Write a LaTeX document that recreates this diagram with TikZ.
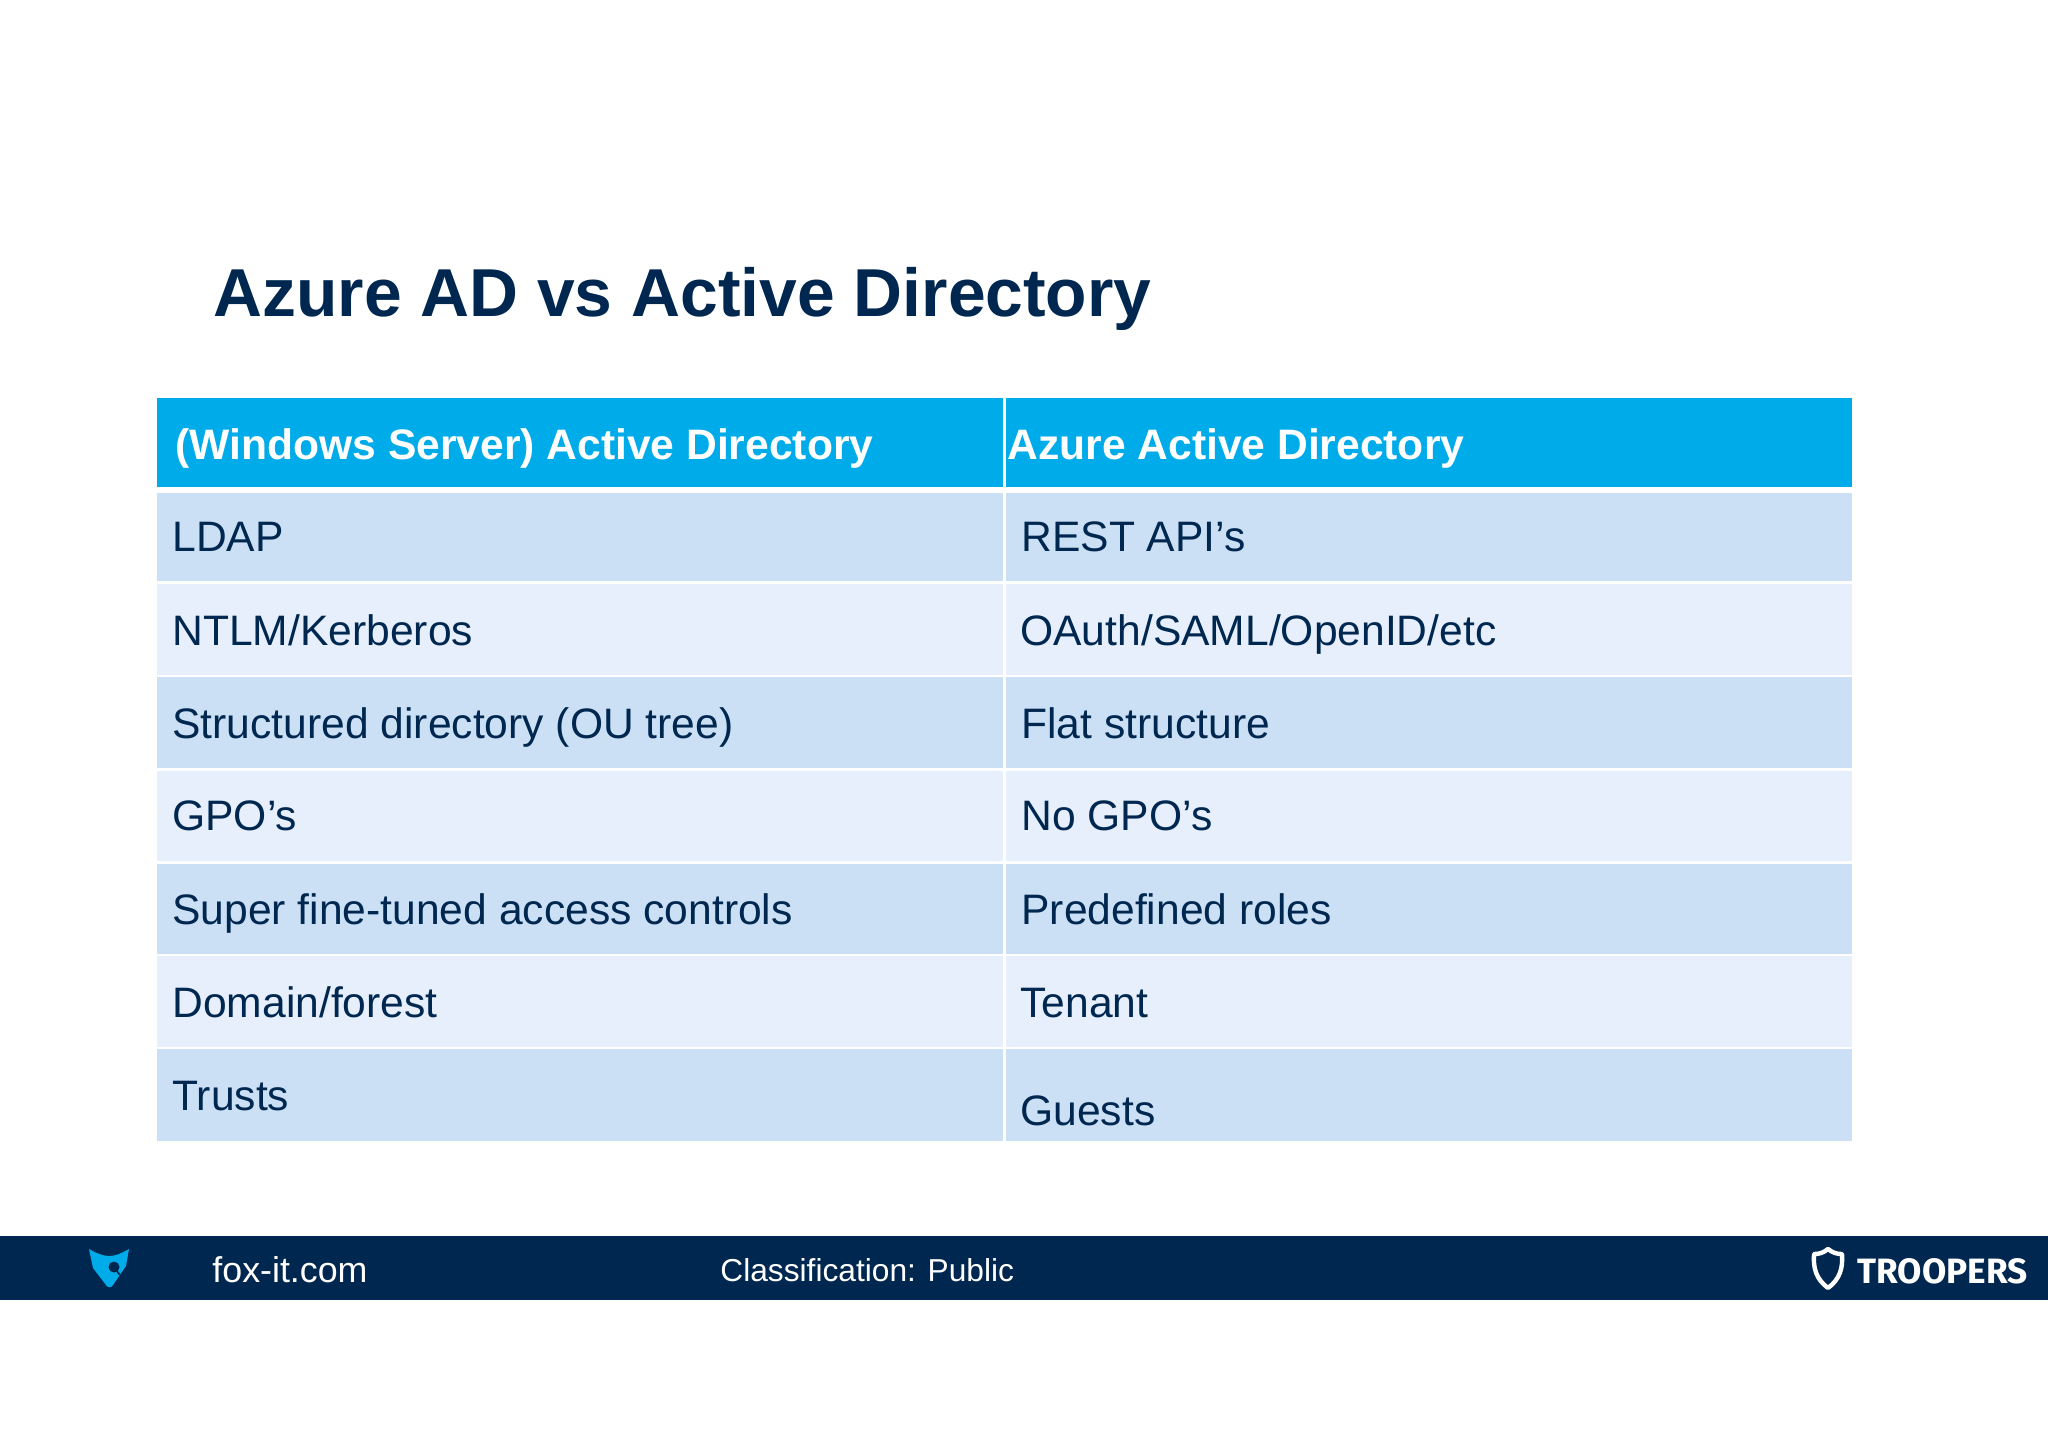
\documentclass[tikz,border=0pt]{standalone}
\usepackage{fontspec}
\setmainfont{Liberation Sans}
\newfontfamily\logofont{Fira Sans}
\definecolor{navy}{HTML}{00274F}
\definecolor{headblue}{HTML}{00ABE9}
\definecolor{rowdark}{HTML}{CBE0F5}
\definecolor{rowlight}{HTML}{E6EFFB}
\tikzset{
  cell/.style={anchor=base west, inner sep=0pt, text=navy, font=\fontsize{21.3}{25}\selectfont},
  headcell/.style={anchor=base west, inner sep=0pt, text=white, font=\fontsize{21.3}{25}\selectfont\bfseries},
  foot/.style={anchor=base west, inner sep=0pt, text=white}
}
\begin{document}
\begin{tikzpicture}[x=0.5pt, y=-0.5pt]
    \useasboundingbox (0,0) rectangle (2048,1447);

    % table bands
    \fill [headblue] (157,398) rectangle (1003,487);
    \fill [headblue] (1006,398) rectangle (1852,487);
    \foreach \ytop/\ybot/\shade in {493/581/rowdark,584/675/rowlight,677/768/rowdark,771/861/rowlight,864/954/rowdark,956/1047/rowlight,1049/1141/rowdark}{
      \fill [\shade] (157,\ytop) rectangle (1003,\ybot);
      \fill [\shade] (1006,\ytop) rectangle (1852,\ybot);
    }

    % footer bar
    \fill [navy] (0,1236) rectangle (2048,1300);

    % fox logo
    \fill [headblue] (89,1249) .. controls (96,1253) and (103,1256) .. (109,1256)
      .. controls (116,1256) and (122,1253) .. (129,1249)
      -- (126,1266) -- (113,1285) .. controls (111,1288) and (108,1288) .. (106,1285)
      -- (93,1268) -- cycle;
    \fill [navy] (114,1267) circle (5.5);
    \draw [navy, line width=0.9pt] (116,1270) -- (120,1275);

    % shield logo
    \draw [white, line width=2.2pt, line join=round] (1828,1249)
      .. controls (1823,1253) and (1819,1254) .. (1814,1254)
      .. controls (1813,1268) and (1816,1279) .. (1828,1288)
      .. controls (1840,1279) and (1843,1268) .. (1842,1254)
      .. controls (1837,1254) and (1833,1253) .. (1828,1249) -- cycle;

    % add labels
    \node [anchor=base west, inner sep=0pt, text=navy, font=\fontsize{33.9}{40}\selectfont\bfseries] (title) at (213,316) {Azure AD vs Active Directory};
    \node [headcell] (headleft) at (175,459) {(Windows Server) Active Directory};
    \node [headcell] (headright) at (1007,459) {Azure Active Directory};
    \node [cell] (ldap) at (172,551) {LDAP};
    \node [cell] (rest) at (1021,551) {REST API’s};
    \node [cell] (ntlm) at (172,645) {NTLM/Kerberos};
    \node [cell] (oauth) at (1020,645) {OAuth/SAML/OpenID/etc};
    \node [cell] (struct) at (172,738) {Structured directory (OU tree)};
    \node [cell] (flat) at (1021,738) {Flat structure};
    \node [cell] (gpo) at (172,830) {GPO’s};
    \node [cell] (nogpo) at (1021,830) {No GPO’s};
    \node [cell] (access) at (172,924) {Super fine-tuned access controls};
    \node [cell] (roles) at (1021,924) {Predefined roles};
    \node [cell] (domain) at (172,1017) {Domain/forest};
    \node [cell] (tenant) at (1020,1017) {Tenant};
    \node [cell] (trusts) at (172,1110) {Trusts};
    \node [cell] (guests) at (1020,1125) {Guests};
    \node [foot, font=\fontsize{17.9}{21}\selectfont] (site) at (212,1282) {fox-it.com};
    \node [foot, font=\fontsize{15.85}{19}\selectfont] (class) at (720,1281) {Classification: Public};
    \node [foot, font=\fontsize{17.6}{21}\selectfont\logofont\bfseries] (troopers) at (1857,1283) {TROOPERS};
\end{tikzpicture}
\end{document}
